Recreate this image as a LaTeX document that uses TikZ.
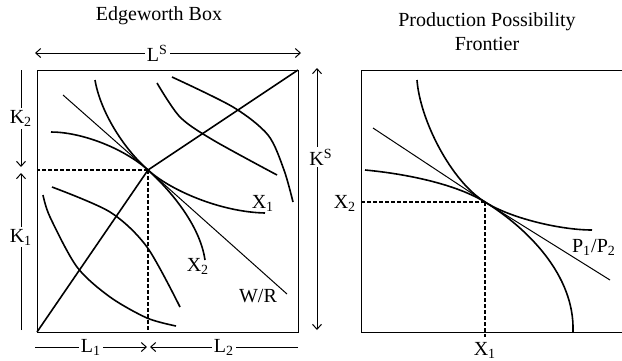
\documentclass[tikz,border=0pt]{standalone}
\usepackage{fontspec}
\setmainfont{Liberation Serif}
\usetikzlibrary{arrows.meta, positioning, calc}

\begin{document}
\begin{tikzpicture}[
    x=0.5pt, y=-0.5pt,
    >={Straight Barb[length=2.5pt, width=4.5pt]},
    line width=0.5pt,
    font=\fontsize{10}{12}\selectfont,
    curve/.style={line width=0.8pt},
    price/.style={line width=0.5pt},
    guide/.style={dash pattern=on 2pt off 1pt, line width=0.75pt},
    lbl/.style={fill=white, inner sep=1pt}
  ]
  \useasboundingbox (0,0) rectangle (622,360);

  % --- caja de Edgeworth ---
  \coordinate (O1) at (37,332);
  \coordinate (O2) at (298,70);
  \coordinate (E)  at (148,170);
  \draw (O1) rectangle (O2);
  \node (ebtitle) at (159,16) {Edgeworth Box};

  \draw[guide] (E) -- (E -| O1);
  \draw[guide] (E) -- (E |- O1);
  \draw[curve] (O1) -- (E) -- (O2);
  \draw[price] (63,95) -- (E) -- (287,294);

  % isocuantas X1
  \draw[curve] (95,80) .. controls (100,110) and (122,147) .. (E)
               .. controls (170,190) and (220,212) .. (265,213);
  \draw[curve] plot[smooth] coordinates {(157,83) (180,117) (213,140) (277,175)};
  \draw[curve] plot[smooth] coordinates {(43,195) (50,217) (77,267) (110,297) (147,318) (176,326)};
  % isocuantas X2
  \draw[curve] (51,132) .. controls (80,132) and (122,147) .. (E)
               .. controls (170,190) and (200,225) .. (205,260);
  \draw[curve] plot[smooth] coordinates {(172,77) (233,107) (268,135) (284,170) (293,202)};
  \draw[curve] plot[smooth] coordinates {(52,187) (110,212) (147,247) (180,307)};

  \node (x1lbl) at (263,203) {X\textsubscript{1}};
  \node (x2lbl) at (198,266) {X\textsubscript{2}};
  \node (wrlbl) at (258,296) {W/R};

  % --- cotas ---
  \coordinate (lsl) at (35,53);
  \coordinate (lsr) at (301,53);
  \draw[<->] (lsl) -- node[lbl, pos=0.46] (ls) {L\textsuperscript{S}} (lsr);
  \coordinate (kst) at (317,68);
  \coordinate (ksb) at (317,330);
  \draw[<->] (kst) -- node[lbl, pos=0.34, xshift=2pt] (ks) {K\textsuperscript{S}} (ksb);
  \coordinate (k2t) at (21,70);
  \coordinate (k2b) at (21,167);
  \draw[->] (k2t) -- node[lbl] (k2) {K\textsubscript{2}} (k2b);
  \coordinate (k1b) at (21,330);
  \coordinate (k1t) at (21,173);
  \draw[->] (k1b) -- node[lbl, pos=0.59] (k1) {K\textsubscript{1}} (k1t);
  \coordinate (l1l) at (35,347);
  \coordinate (l1r) at (147,347);
  \draw[->] (l1l) -- node[lbl] (l1) {L\textsubscript{1}} (l1r);
  \coordinate (l2r) at (298,347);
  \coordinate (l2l) at (150,347);
  \draw[->] (l2r) -- node[lbl] (l2) {L\textsubscript{2}} (l2l);

  % --- frontera de posibilidades ---
  \coordinate (P0) at (361,332);
  \coordinate (Ptl) at (361,70);
  \coordinate (Ptr) at (622,70);
  \coordinate (Pbr) at (622,332);
  \coordinate (T)  at (485,202);
  \draw (Ptr) -- (Ptl) -- (P0) -- (Pbr);
  \node[align=center] (pptitle) at (487,32) {Production Possibility\\Frontier};

  \draw[guide] (T) -- (T -| P0);
  \draw[guide] (T) -- ($(T |- P0)+(0,5)$);
  \draw[price] (373,128) -- (T) -- (610,280);
  % frontera
  \draw[curve] (365,170) .. controls (398,173) and (452,182) .. (T)
               .. controls (527,228) and (575,275) .. (573,332);
  % curva de indiferencia
  \draw[curve] (417,80) .. controls (420,120) and (451,181) .. (T)
               .. controls (510,218) and (560,230) .. (592,230);

  \node (px2) at (345,203) {X\textsubscript{2}};
  \node (px1) at (485,350) {X\textsubscript{1}};
  \node (pratio) at (594,247) {P\textsubscript{1}/P\textsubscript{2}};
\end{tikzpicture}
\end{document}
